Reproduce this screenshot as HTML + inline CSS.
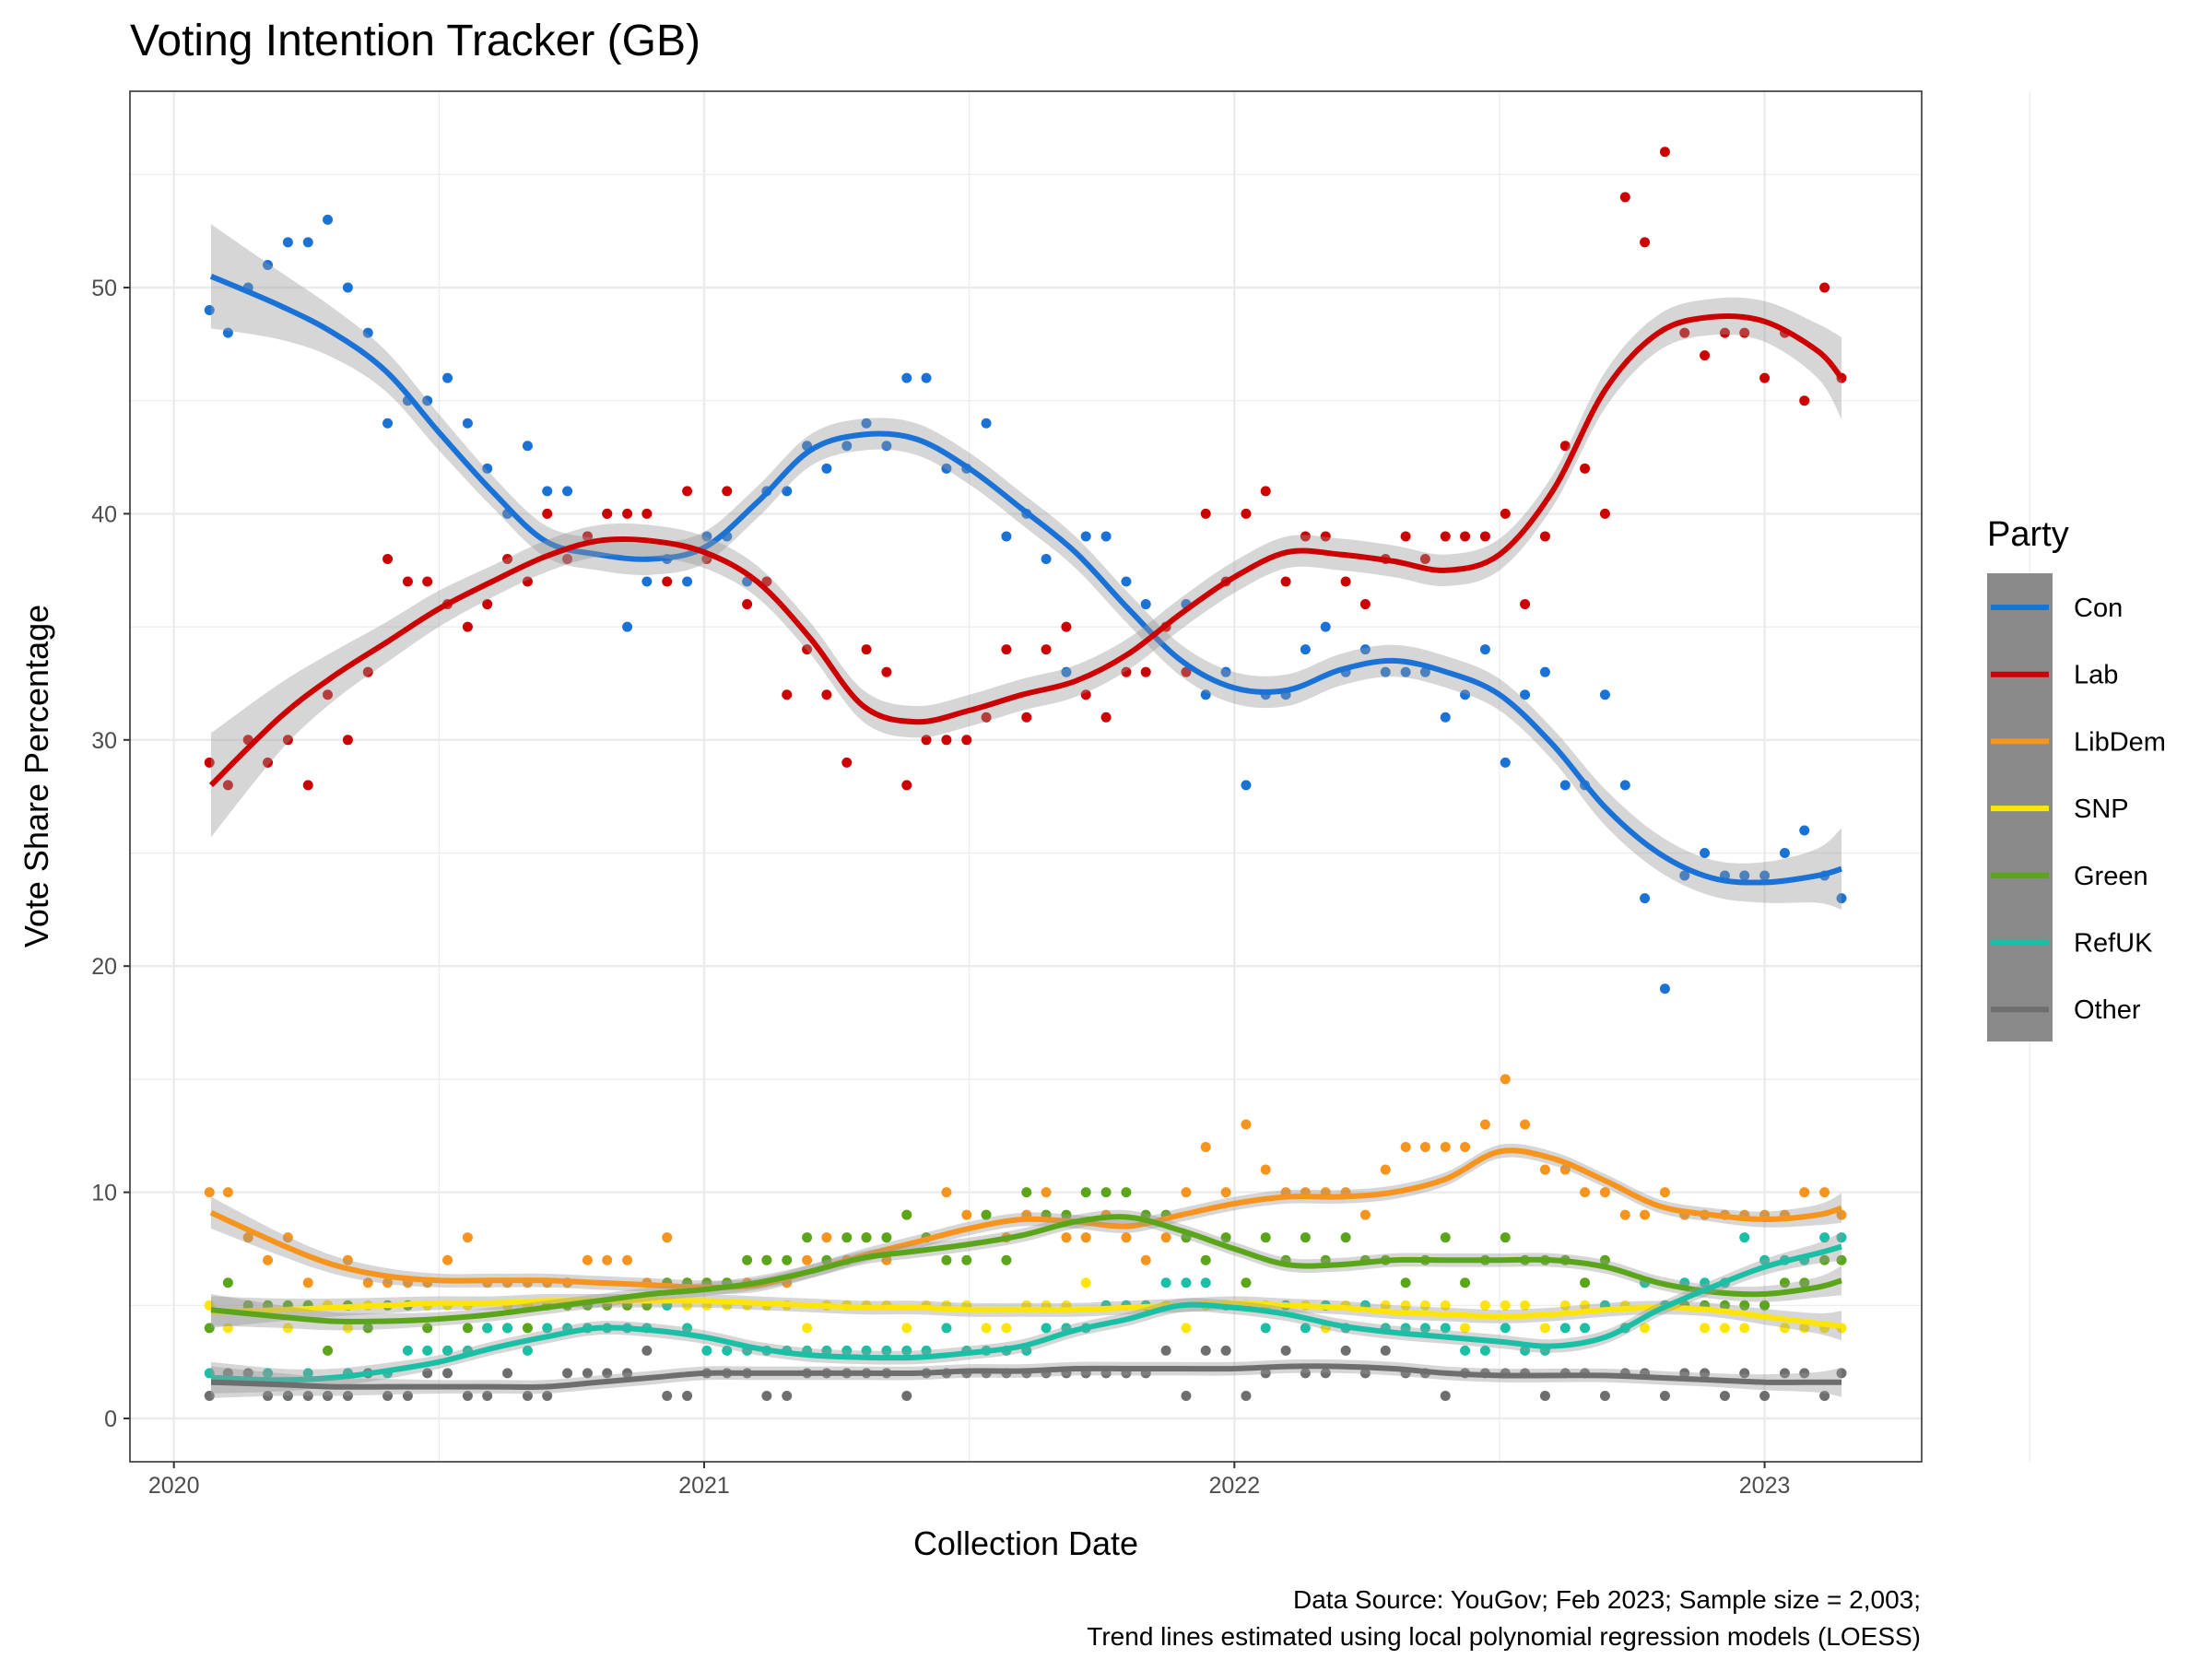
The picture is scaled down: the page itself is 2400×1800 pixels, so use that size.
<!DOCTYPE html>
<html><head><meta charset="utf-8"><style>
html,body{margin:0;padding:0;background:#fff;}
svg{display:block;font-family:"Liberation Sans",Arial,sans-serif;}
</style></head><body>
<svg id="chart" width="2400" height="1800" viewBox="0 0 2400 1800" xmlns="http://www.w3.org/2000/svg">
<text x="141" y="60" font-size="48" fill="#000">Voting Intention Tracker (GB)</text>
<g id="grid"></g>
<g id="points"></g>
<g id="trends"></g>
<rect x="141" y="99" width="1944" height="1487" fill="none" stroke="#333" stroke-width="1.6"/>
<g id="axes"></g>
<text transform="translate(52,842) rotate(-90)" text-anchor="middle" font-size="36" fill="#000">Vote Share Percentage</text>
<text x="1113" y="1687" text-anchor="middle" font-size="36" fill="#000">Collection Date</text>
<text x="2084" y="1745" text-anchor="end" font-size="28" fill="#000">Data Source: YouGov; Feb 2023; Sample size = 2,003;</text>
<text x="2084" y="1785" text-anchor="end" font-size="28" fill="#000">Trend lines estimated using local polynomial regression models (LOESS)</text>
<text x="2156" y="592" font-size="38" fill="#000">Party</text>
<rect x="2156" y="622" width="71" height="508" fill="#8a8a8a"/>
<g id="legend"></g>
</svg>
<script>
const NS="http://www.w3.org/2000/svg";
const parties=["Con","Lab","LibDem","SNP","Green","RefUK","Other"];
const colors=["#1a72d6","#cc0000","#f7941d","#fde50a","#5aa51a","#1bbfa5","#6e6e6e"];
const xTickLabels=["2020","2021","2022","2023"];
const xTickYears=[2020,2021,2022,2023];
const yTicks=[0,10,20,30,40,50];
// poll dates as years since 2020-01-01
const pollDates=[0.067,0.102,0.140,0.177,0.215,0.253,0.290,0.328,0.366,0.403,0.441,0.478,0.516,0.554,0.591,0.629,0.667,0.704,0.742,0.780,0.817,0.855,0.892,0.930,0.968,1.005,1.043,1.081,1.118,1.156,1.194,1.231,1.269,1.306,1.344,1.382,1.419,1.457,1.495,1.532,1.570,1.608,1.645,1.683,1.720,1.758,1.796,1.833,1.871,1.909,1.946,1.984,2.022,2.059,2.097,2.134,2.172,2.210,2.247,2.285,2.323,2.360,2.398,2.435,2.473,2.511,2.548,2.586,2.624,2.661,2.699,2.737,2.774,2.812,2.849,2.887,2.925,2.962,3.000,3.038,3.075,3.113,3.145];
const conPolls=[49,48,50,51,52,52,53,50,48,44,45,45,46,44,42,40,43,41,41,39,40,35,37,38,37,39,39,37,41,41,43,42,43,44,43,46,46,42,42,44,39,40,38,33,39,39,37,36,35,36,32,33,28,32,32,34,35,33,34,33,33,33,31,32,34,29,32,33,28,28,32,28,23,19,24,25,24,24,24,25,26,24,23];
const labPolls=[29,28,30,29,30,28,32,30,33,38,37,37,36,35,36,38,37,40,38,39,40,40,40,37,41,38,41,36,37,32,34,32,29,34,33,28,30,30,30,31,34,31,34,35,32,31,33,33,35,33,40,37,40,41,37,39,39,37,36,38,39,38,39,39,39,40,36,39,43,42,40,54,52,56,48,47,48,48,46,48,45,50,46];
const ldPolls=[10,10,8,7,8,6,5,7,6,6,6,6,7,8,6,6,6,6,6,7,7,7,6,8,6,6,6,6,7,6,7,8,7,8,7,9,8,10,9,9,8,9,10,8,8,9,8,7,8,10,12,10,13,11,10,10,10,10,9,11,12,12,12,12,13,15,13,11,11,10,10,9,9,10,9,9,9,9,9,9,10,10,9];
const snpPolls=[5,4,5,5,4,5,5,4,5,5,5,5,5,5,4,5,5,5,5,4,5,5,5,5,5,5,5,5,5,5,4,5,5,5,5,4,5,5,5,4,4,5,5,5,6,5,5,5,5,4,5,5,5,5,5,5,4,5,5,5,5,5,5,4,5,5,5,4,5,5,5,5,4,5,5,4,4,4,5,4,4,4,4];
const greenPolls=[4,6,5,5,5,5,3,5,4,5,5,4,3,4,4,4,4,5,5,5,5,5,5,6,6,6,6,7,7,7,8,7,8,8,8,9,8,7,7,9,7,10,9,9,10,10,10,9,9,8,7,8,6,8,7,8,7,8,7,7,6,7,8,6,7,8,7,7,7,6,7,4,6,5,5,5,5,5,5,6,6,7,7];
const refPolls=[2,2,2,2,1,2,1,2,2,2,3,3,3,3,4,4,3,4,4,4,4,4,4,5,4,3,3,3,3,3,3,3,3,3,3,3,3,4,3,3,3,3,4,4,4,5,5,5,6,6,6,5,5,4,5,4,5,4,5,4,4,4,4,3,3,4,3,3,4,4,5,4,6,5,6,6,6,8,7,7,7,8,8];
const othPolls=[1,2,2,1,1,1,1,1,2,1,1,2,2,1,1,2,1,1,2,2,2,2,3,1,1,2,2,2,1,1,2,2,2,2,2,1,2,2,2,2,2,2,2,2,2,2,2,2,3,1,3,3,1,2,3,2,2,3,2,3,2,2,1,2,2,2,2,1,2,2,1,2,2,1,2,2,1,2,1,2,2,1,2];
// trend (LOESS) grid
const trendDates=[0.07,0.2,0.3,0.4,0.5,0.6,0.7,0.8,0.9,1.0,1.1,1.2,1.3,1.4,1.5,1.6,1.7,1.8,1.9,2.0,2.1,2.2,2.3,2.4,2.5,2.6,2.7,2.8,2.9,3.0,3.1,3.145];
const conTrend=[50.5,49.2,48,46.3,43.6,41,38.8,38.2,38,38.5,40.5,42.8,43.5,43.3,42,40.2,38.3,35.8,33.5,32.3,32.2,33.1,33.5,33,32,29.8,27,25,23.9,23.7,24,24.3];
const labTrend=[28,31,32.8,34.3,35.8,37,38.1,38.8,38.8,38.3,37,34.5,31.5,30.8,31.3,32,32.6,33.8,35.6,37.2,38.3,38.2,37.9,37.5,38.2,41,45.5,48,48.7,48.5,47.2,46];
const ldTrend=[9.1,7.7,6.8,6.3,6.1,6.1,6.1,6,5.9,5.8,5.9,6.5,7.2,7.8,8.4,8.8,8.7,8.5,9,9.5,9.8,9.8,10,10.6,11.8,11.5,10.5,9.4,9,8.8,9,9.3];
const snpTrend=[4.7,4.8,4.9,5,5.1,5.1,5.2,5.2,5.2,5.2,5.1,5,4.9,4.9,4.8,4.8,4.8,4.9,5,5.1,5,4.9,4.7,4.6,4.5,4.6,4.8,4.9,4.8,4.5,4.2,4.1];
const greenTrend=[4.8,4.5,4.3,4.3,4.4,4.6,4.9,5.2,5.5,5.7,6,6.5,7.1,7.4,7.7,8.1,8.7,8.9,8.3,7.5,6.8,6.8,7,7,7,7,6.7,6,5.6,5.5,5.8,6.1];
const refTrend=[1.8,1.7,1.8,2.1,2.5,3.1,3.6,4,3.9,3.6,3.1,2.8,2.7,2.7,2.9,3.2,3.9,4.4,5,4.9,4.6,4.1,3.8,3.6,3.4,3.2,3.6,4.8,5.8,6.7,7.3,7.6];
const othTrend=[1.6,1.5,1.4,1.4,1.4,1.4,1.4,1.6,1.8,2,2,2,2,2,2.1,2.1,2.2,2.2,2.2,2.2,2.3,2.3,2.2,2,1.9,1.9,1.9,1.8,1.7,1.6,1.6,1.6];
const majorSE=[2.3,1.5,1.1,0.9,0.8,0.7,0.7,0.7,0.7,0.7,0.7,0.7,0.7,0.7,0.7,0.7,0.7,0.7,0.7,0.7,0.7,0.7,0.7,0.7,0.7,0.7,0.8,0.8,0.8,0.9,1.2,1.8];
const minorSE=[0.7,0.5,0.4,0.35,0.3,0.3,0.3,0.3,0.3,0.3,0.3,0.3,0.3,0.3,0.3,0.3,0.3,0.3,0.3,0.3,0.3,0.3,0.3,0.3,0.3,0.3,0.3,0.3,0.3,0.35,0.45,0.65];

const polls=[conPolls,labPolls,ldPolls,snpPolls,greenPolls,refPolls,othPolls];
const trends=[conTrend,labTrend,ldTrend,snpTrend,greenTrend,refTrend,othTrend];
const ses=[majorSE,majorSE,minorSE,minorSE,minorSE,minorSE,minorSE];

const X0=188.7,XS=575.3,Y0=1539,YS=24.54;
function xScale(t){return X0+XS*t;}
function yScale(v){return Y0-YS*v;}
function mk(tag,attrs,parent){const e=document.createElementNS(NS,tag);for(const k in attrs)e.setAttribute(k,attrs[k]);parent.appendChild(e);return e;}
function smooth(pts){let d="M"+pts[0][0].toFixed(1)+","+pts[0][1].toFixed(1);
 for(let i=0;i<pts.length-1;i++){const p0=pts[i-1]||pts[i],p1=pts[i],p2=pts[i+1],p3=pts[i+2]||p2;
  const c1=[p1[0]+(p2[0]-p0[0])/6,p1[1]+(p2[1]-p0[1])/6],c2=[p2[0]-(p3[0]-p1[0])/6,p2[1]-(p3[1]-p1[1])/6];
  d+="C"+c1[0].toFixed(1)+","+c1[1].toFixed(1)+" "+c2[0].toFixed(1)+","+c2[1].toFixed(1)+" "+p2[0].toFixed(1)+","+p2[1].toFixed(1);}
 return d;}

const grid=document.getElementById("grid");
for(let v=5;v<=55;v+=10){const l=mk("line",{x1:141,x2:2085,y1:yScale(v),y2:yScale(v),stroke:"#ebebeb","stroke-width":1.2},grid);

}
for(let t=0.5;t<=3.5;t+=1){const l=mk("line",{x1:xScale(t),x2:xScale(t),y1:99,y2:1586,stroke:"#ebebeb","stroke-width":1.2},grid);

}
yTicks.forEach(v=>{const l=mk("line",{x1:141,x2:2085,y1:yScale(v),y2:yScale(v),stroke:"#ebebeb","stroke-width":2.4},grid);

});
xTickYears.forEach(y=>{const t=y-2020;const l=mk("line",{x1:xScale(t),x2:xScale(t),y1:99,y2:1586,stroke:"#ebebeb","stroke-width":2.4},grid);

});

const axes=document.getElementById("axes");
yTicks.forEach(v=>{const tk=mk("line",{x1:134,x2:141,y1:yScale(v),y2:yScale(v),stroke:"#333","stroke-width":2},axes);


const tx=mk("text",{x:127,y:yScale(v)+9,"text-anchor":"end","font-size":25,fill:"#4d4d4d"},axes);tx.textContent=String(v);

});
xTickYears.forEach((y,i)=>{const x=xScale(y-2020);const tk=mk("line",{x1:x,x2:x,y1:1586,y2:1593,stroke:"#333","stroke-width":2},axes);


const tx=mk("text",{x:x,y:1620,"text-anchor":"middle","font-size":25,fill:"#4d4d4d"},axes);tx.textContent=xTickLabels[i];

});

const pg=document.getElementById("points");
polls.forEach((arr,pi)=>{arr.forEach((v,i)=>{const c=mk("circle",{cx:xScale(pollDates[i]),cy:yScale(v),r:5.5,fill:colors[pi]},pg);

});});

const tg=document.getElementById("trends");
trends.forEach((arr,pi)=>{
 const up=trendDates.map((t,i)=>[xScale(t),yScale(arr[i]+ses[pi][i])]);
 const lo=trendDates.map((t,i)=>[xScale(t),yScale(arr[i]-ses[pi][i])]).reverse();
 const dU=smooth(up),dL=smooth(lo).replace(/^M/,"L");
 const band=mk("path",{d:dU+dL+"Z",fill:"#999","fill-opacity":0.4},tg);
 
 
 const line=mk("path",{d:smooth(trendDates.map((t,i)=>[xScale(t),yScale(arr[i])])),fill:"none",stroke:colors[pi],"stroke-width":6,"stroke-linejoin":"round"},tg);
 
 
});

const lg=document.getElementById("legend");
parties.forEach((p,i)=>{const y=659+i*72.7;
 const l=mk("line",{x1:2160,x2:2223,y1:y,y2:y,stroke:colors[i],"stroke-width":6},lg);
 
 
 const t=mk("text",{x:2250,y:y+10,"font-size":29,fill:"#000"},lg);t.textContent=p;
 
 });
</script>
</body></html>
